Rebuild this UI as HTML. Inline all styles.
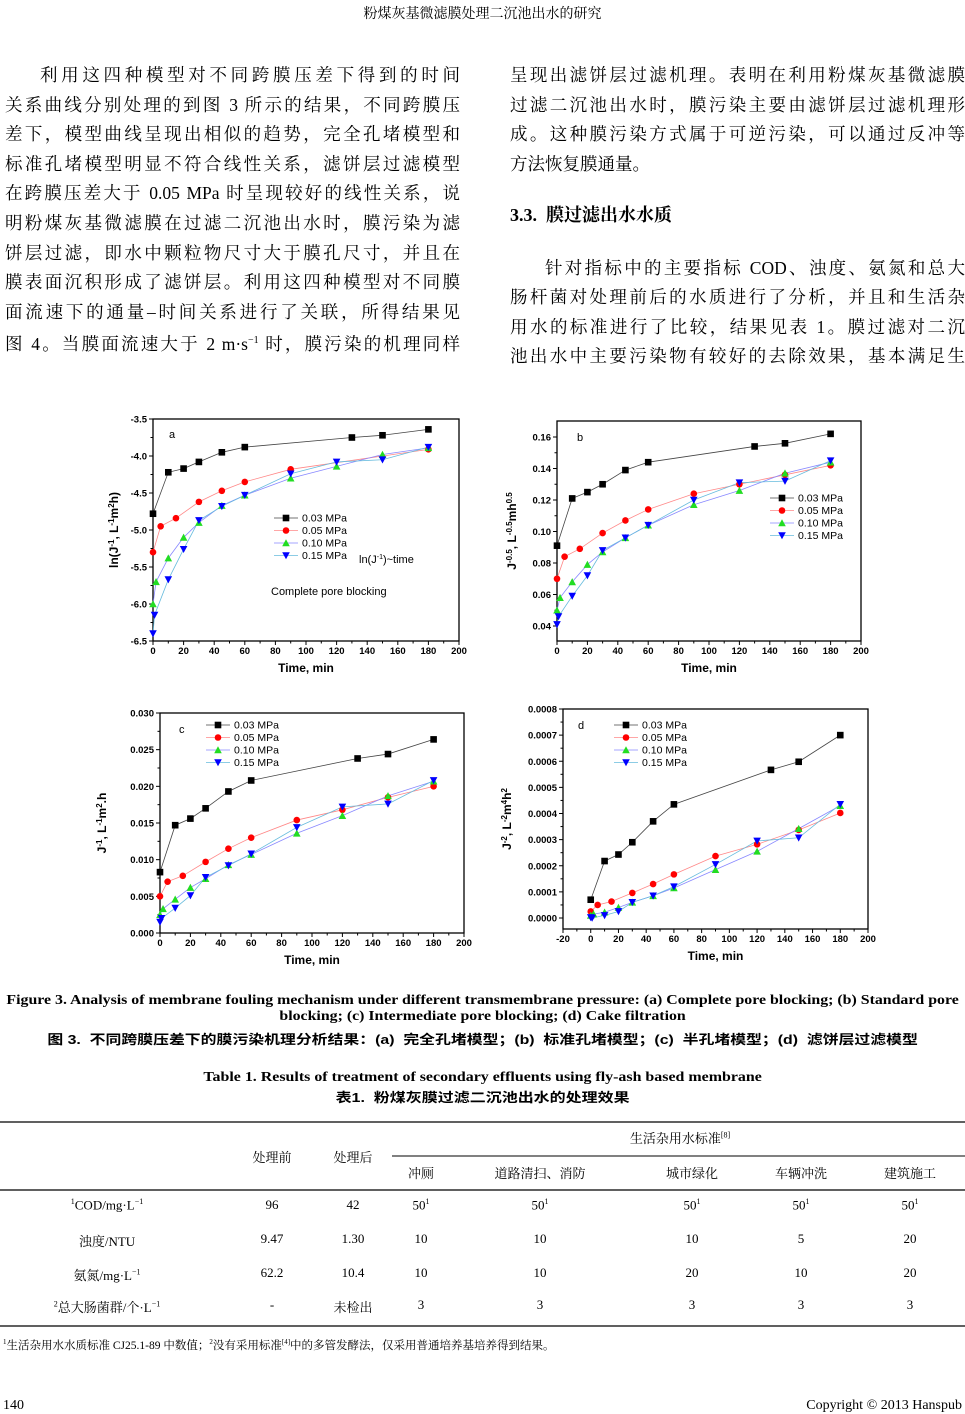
<!DOCTYPE html>
<html><head><meta charset="utf-8"><style>
body{margin:0;width:965px;height:1414px;background:#fff;position:relative;overflow:hidden;font-family:"Liberation Serif","Noto Serif CJK SC",serif;color:#000}
.a{position:absolute;white-space:nowrap}
.ln{position:absolute;font-size:17.5px;text-align:justify;text-align-last:justify;white-space:nowrap;height:22px;line-height:22px}
.c{position:absolute;left:0;width:965px;text-align:center;font-weight:bold;font-size:13.5px;white-space:nowrap;transform-origin:482px 0}
.t{position:absolute;font-size:13px;transform:translateX(-50%);white-space:nowrap}
svg{position:absolute;left:0;top:0}
</style></head><body>
<div class="c" style="top:3px;font-weight:normal;font-size:14px">粉煤灰基微滤膜处理二沉池出水的研究</div>

<div class="ln" style="left:40px;width:420px;top:64px">利用这四种模型对不同跨膜压差下得到的时间</div>
<div class="ln" style="left:5px;width:455px;top:94px">关系曲线分别处理的到图 3 所示的结果，不同跨膜压</div>
<div class="ln" style="left:5px;width:455px;top:123px">差下，模型曲线呈现出相似的趋势，完全孔堵模型和</div>
<div class="ln" style="left:5px;width:455px;top:153px">标准孔堵模型明显不符合线性关系，滤饼层过滤模型</div>
<div class="ln" style="left:5px;width:455px;top:182px">在跨膜压差大于 0.05 MPa 时呈现较好的线性关系，说</div>
<div class="ln" style="left:5px;width:455px;top:212px">明粉煤灰基微滤膜在过滤二沉池出水时，膜污染为滤</div>
<div class="ln" style="left:5px;width:455px;top:242px">饼层过滤，即水中颗粒物尺寸大于膜孔尺寸，并且在</div>
<div class="ln" style="left:5px;width:455px;top:271px">膜表面沉积形成了滤饼层。利用这四种模型对不同膜</div>
<div class="ln" style="left:5px;width:455px;top:301px">面流速下的通量–时间关系进行了关联，所得结果见</div>
<div class="ln" style="left:5px;width:455px;top:330px">图 4。当膜面流速大于 2 m·s<sup style="font-size:10px">−1</sup> 时，膜污染的机理同样</div>

<div class="ln" style="left:510px;width:455px;top:64px">呈现出滤饼层过滤机理。表明在利用粉煤灰基微滤膜</div>
<div class="ln" style="left:510px;width:455px;top:94px">过滤二沉池出水时，膜污染主要由滤饼层过滤机理形</div>
<div class="ln" style="left:510px;width:455px;top:123px">成。这种膜污染方式属于可逆污染，可以通过反冲等</div>
<div class="a" style="left:510px;top:153px;font-size:17.5px;line-height:22px">方法恢复膜通量。</div>
<div class="a" style="left:510px;top:204px;font-size:18px;font-weight:bold;line-height:22px">3.3.&nbsp;&nbsp;膜过滤出水水质</div>
<div class="ln" style="left:545px;width:420px;top:257px">针对指标中的主要指标 COD、浊度、氨氮和总大</div>
<div class="ln" style="left:510px;width:455px;top:286px">肠杆菌对处理前后的水质进行了分析，并且和生活杂</div>
<div class="ln" style="left:510px;width:455px;top:316px">用水的标准进行了比较，结果见表 1。膜过滤对二沉</div>
<div class="ln" style="left:510px;width:455px;top:345px">池出水中主要污染物有较好的去除效果，基本满足生</div>

<svg id="s" width="965" height="1414" font-family="Liberation Sans, sans-serif"></svg>

<div class="c" style="top:992px;transform:scaleX(1.175)">Figure 3. Analysis of membrane fouling mechanism under different transmembrane pressure: (a) Complete pore blocking; (b) Standard pore</div>
<div class="c" style="top:1008px;transform:scaleX(1.175)">blocking; (c) Intermediate pore blocking; (d) Cake filtration</div>
<div class="c" style="top:1029px;font-family:'Liberation Sans','Noto Sans CJK SC',sans-serif;font-size:13px;transform:scaleX(1.22)">图 3.&nbsp; 不同跨膜压差下的膜污染机理分析结果：(a)&nbsp; 完全孔堵模型；(b)&nbsp; 标准孔堵模型；(c)&nbsp; 半孔堵模型；(d)&nbsp; 滤饼层过滤模型</div>
<div class="c" style="top:1069px;transform:scaleX(1.18)">Table 1. Results of treatment of secondary effluents using fly-ash based membrane</div>
<div class="c" style="top:1087px;font-family:'Liberation Sans','Noto Sans CJK SC',sans-serif;font-size:13px;transform:scaleX(1.23)">表1.&nbsp; 粉煤灰膜过滤二沉池出水的处理效果</div>

<div class="t" style="left:680px;top:1128px">生活杂用水标准<sup style="font-size:8px">[8]</sup></div>
<div class="t" style="left:272px;top:1147px">处理前</div>
<div class="t" style="left:353px;top:1147px">处理后</div>
<div class="t" style="left:421px;top:1163px">冲厕</div>
<div class="t" style="left:540px;top:1163px">道路清扫、消防</div>
<div class="t" style="left:692px;top:1163px">城市绿化</div>
<div class="t" style="left:801px;top:1163px">车辆冲洗</div>
<div class="t" style="left:910px;top:1163px">建筑施工</div>
<div id="rows"></div>
<div class="a" style="left:3px;top:1337px;font-size:11.5px"><sup style="font-size:7px">1</sup>生活杂用水水质标准 CJ25.1-89 中数值；<sup style="font-size:7px">2</sup>没有采用标准<sup style="font-size:7px">[4]</sup>中的多管发酵法，仅采用普通培养基培养得到结果。</div>
<div class="a" style="left:3px;top:1398px;font-size:14px">140</div>
<div class="a" style="right:3px;top:1398px;font-size:14px">Copyright © 2013 Hanspub</div>

<script>
var R=[["<sup style='font-size:8px'>1</sup>COD/mg·L<sup style='font-size:8px'>−1</sup>","96","42","50<sup style='font-size:8px'>1</sup>","50<sup style='font-size:8px'>1</sup>","50<sup style='font-size:8px'>1</sup>","50<sup style='font-size:8px'>1</sup>","50<sup style='font-size:8px'>1</sup>"],
["浊度/NTU","9.47","1.30","10","10","10","5","20"],
["氨氮/mg·L<sup style='font-size:8px'>−1</sup>","62.2","10.4","10","10","20","10","20"],
["<sup style='font-size:8px'>2</sup>总大肠菌群/个·L<sup style='font-size:8px'>−1</sup>","-","未检出","3","3","3","3","3"]];
var cx=[107,272,353,421,540,692,801,910],ry=[1197,1231,1265,1297],h="";
R.forEach(function(r,i){r.forEach(function(v,j){h+='<div class="t" style="left:'+cx[j]+'px;top:'+ry[i]+'px">'+v+'</div>';});});
document.getElementById('rows').innerHTML=h;

var S=document.getElementById('s'),o="";
function L(x1,y1,x2,y2,c,w){o+='<line x1="'+x1+'" y1="'+y1+'" x2="'+x2+'" y2="'+y2+'" stroke="'+(c||'#000')+'" stroke-width="'+(w||1)+'"/>';}
function T(x,y,s,a,sz,b,extra){o+='<text x="'+x+'" y="'+y+'" text-anchor="'+(a||'middle')+'" font-size="'+(sz||9)+'"'+(b?' font-weight="bold"':'')+(extra||'')+'>'+s+'</text>';}
L(0,1122,965,1122,'#000',1.2);L(392,1156,965,1156,'#000',1);L(0,1190,965,1190,'#000',1.2);L(0,1326,965,1326,'#000',1.2);
var lc=['#444','#f88','#88f','#6bd'];
function mk(x,y,k){var s=3.3;
 if(k==0)o+='<rect x="'+(x-s)+'" y="'+(y-s)+'" width="'+2*s+'" height="'+2*s+'" fill="#000"/>';
 else if(k==1)o+='<circle cx="'+x+'" cy="'+y+'" r="'+s+'" fill="#f00"/>';
 else if(k==2)o+='<polygon points="'+x+','+(y-s-0.5)+' '+(x-s-0.5)+','+(y+s)+' '+(x+s+0.5)+','+(y+s)+'" fill="#2d2"/>';
 else o+='<polygon points="'+x+','+(y+s+0.5)+' '+(x-s-0.5)+','+(y-s)+' '+(x+s+0.5)+','+(y-s)+'" fill="#00f"/>';}
function chart(p){
 var X=function(t){return p.x0+(t-p.t0)/(p.t1-p.t0)*(p.x1-p.x0)},Y=function(v){return p.ya+(v-p.va)/(p.vb-p.va)*(p.yb-p.ya)};
 o+='<rect x="'+p.x0+'" y="'+p.top+'" width="'+(p.x1-p.x0)+'" height="'+(p.bot-p.top)+'" fill="none" stroke="#000" stroke-width="1.3"/>';
 for(var t=p.t0;t<=p.t1;t+=20){var x=X(t);L(x,p.bot,x,p.bot+4);T(x,p.bot+13,t,'middle',9.5,1);if(t<p.t1){L(X(t+10),p.bot,X(t+10),p.bot+2.5);}}
 p.yt.forEach(function(v){var y=Y(v[0]);L(p.x0-4,y,p.x0,y);T(p.x0-6,y+3.5,v[1],'end',9.5,1);});
 p.ym.forEach(function(v){var y=Y(v);L(p.x0-2.5,y,p.x0,y);});
 T((p.x0+p.x1)/2,p.bot+31,'Time, min','middle',12,1);
 o+='<text transform="translate('+p.ylx+','+((p.top+p.bot)/2)+') rotate(-90)" text-anchor="middle" font-size="12" font-weight="bold">'+p.yl+'</text>';
 p.d.forEach(function(s,k){var pts=s.map(function(q){return X(q[0])+','+Y(q[1])}).join(' ');o+='<polyline points="'+pts+'" fill="none" stroke="'+lc[k]+'" stroke-width="0.8"/>';});
 p.d.forEach(function(s,k){s.forEach(function(q){mk(X(q[0]),Y(q[1]),k)});});
 T(p.lab[0],p.lab[1],p.lab[2],'start',11,0);
 var names=['0.03 MPa','0.05 MPa','0.10 MPa','0.15 MPa'];
 names.forEach(function(n,k){var y=p.lg[1]+k*12.5;L(p.lg[0],y,p.lg[0]+24,y,lc[k],0.8);mk(p.lg[0]+12,y,k);T(p.lg[0]+28,y+3.5,n,'start',10.5,0);});
}
function P(a){return a.map(function(s){return s.split(';').map(function(q){return q.split(',').map(Number)})})}
chart({x0:153,x1:459,t0:0,t1:200,top:419,bot:641,va:-3.5,vb:-6.5,ya:419,yb:641,
 yt:[[-3.5,'-3.5'],[-4,'-4.0'],[-4.5,'-4.5'],[-5,'-5.0'],[-5.5,'-5.5'],[-6,'-6.0'],[-6.5,'-6.5']],ym:[-3.75,-4.25,-4.75,-5.25,-5.75,-6.25],
 yl:'ln(J<tspan dy="-4" font-size="8">-1</tspan><tspan dy="4">, L</tspan><tspan dy="-4" font-size="8">-1</tspan><tspan dy="4">m</tspan><tspan dy="-4" font-size="8">2</tspan><tspan dy="4">h)</tspan>',ylx:118,
 lab:[169,438,'a'],lg:[274,518],
 d:P(["0,-4.78;10,-4.22;20,-4.17;30,-4.08;45,-3.95;60,-3.88;130,-3.75;150,-3.72;180,-3.64",
 "0,-5.3;5,-4.95;15,-4.84;30,-4.62;45,-4.47;60,-4.35;90,-4.18;180,-3.91",
 "0,-6.0;2,-5.7;10,-5.38;20,-5.1;30,-4.9;45,-4.67;60,-4.53;90,-4.3;120,-4.14;150,-3.98;180,-3.89",
 "0,-6.4;1,-6.15;10,-5.67;20,-5.26;30,-4.87;45,-4.68;60,-4.53;90,-4.24;120,-4.08;150,-4.05;180,-3.88"])});
T(359,563,'ln(J<tspan dy="-4" font-size="7">-1</tspan><tspan dy="4">)~time</tspan>','start',11,0);
T(271,595,'Complete pore blocking','start',11,0);
chart({x0:557,x1:861,t0:0,t1:200,top:421,bot:641,va:0.16,vb:0.04,ya:437,yb:626,
 yt:[[0.04,'0.04'],[0.06,'0.06'],[0.08,'0.08'],[0.1,'0.10'],[0.12,'0.12'],[0.14,'0.14'],[0.16,'0.16']],ym:[0.05,0.07,0.09,0.11,0.13,0.15],
 yl:'J<tspan dy="-4" font-size="8">-0.5</tspan><tspan dy="4">, L</tspan><tspan dy="-4" font-size="8">-0.5</tspan><tspan dy="4">mh</tspan><tspan dy="-4" font-size="8">0.5</tspan>',ylx:516,
 lab:[577,441,'b'],lg:[770,498],
 d:P(["0,.091;10,.121;20,.125;30,.130;45,.139;60,.144;130,.154;150,.156;180,.162",
 "0,.070;5,.084;15,.089;30,.099;45,.107;60,.114;90,.124;120,.130;150,.136;180,.142",
 "0,.050;2,.058;10,.068;20,.079;30,.087;45,.096;60,.104;90,.117;120,.126;150,.137;180,.144",
 "0,.041;1,.046;10,.059;20,.072;30,.088;45,.096;60,.104;90,.120;120,.131;150,.132;180,.145"])});
chart({x0:160,x1:464,t0:0,t1:200,top:713,bot:933,va:0.03,vb:0,ya:713,yb:933,
 yt:[[0,'0.000'],[0.005,'0.005'],[0.01,'0.010'],[0.015,'0.015'],[0.02,'0.020'],[0.025,'0.025'],[0.03,'0.030']],ym:[0.0025,0.0075,0.0125,0.0175,0.0225,0.0275],
 yl:'J<tspan dy="-4" font-size="8">-1</tspan><tspan dy="4">, L</tspan><tspan dy="-4" font-size="8">-1</tspan><tspan dy="4">m</tspan><tspan dy="-4" font-size="8">2</tspan><tspan dy="4">.h</tspan>',ylx:106,
 lab:[179,733,'c'],lg:[206,725],
 d:P(["0,.0083;10,.0147;20,.0156;30,.017;45,.0193;60,.0208;130,.0238;150,.0244;180,.0264",
 "0,.005;5,.007;15,.0078;30,.0097;45,.0115;60,.013;90,.0154;120,.0168;150,.0185;180,.020",
 "0,.0025;2,.0033;10,.0046;20,.0062;30,.0074;45,.0093;60,.0107;90,.0136;120,.016;150,.0187;180,.0207",
 "0,.0015;1,.002;10,.0034;20,.0051;30,.0076;45,.0092;60,.0108;90,.0144;120,.0172;150,.0176;180,.0208"])});
chart({x0:563,x1:868,t0:-20,t1:200,top:709,bot:929,va:0.0008,vb:0,ya:709,yb:918,
 yt:[[0,'0.0000'],[0.0001,'0.0001'],[0.0002,'0.0002'],[0.0003,'0.0003'],[0.0004,'0.0004'],[0.0005,'0.0005'],[0.0006,'0.0006'],[0.0007,'0.0007'],[0.0008,'0.0008']],ym:[0.00005,0.00015,0.00025,0.00035,0.00045,0.00055,0.00065,0.00075],
 yl:'J<tspan dy="-4" font-size="8">-2</tspan><tspan dy="4">, L</tspan><tspan dy="-4" font-size="8">-2</tspan><tspan dy="4">m</tspan><tspan dy="-4" font-size="8">4</tspan><tspan dy="4">h</tspan><tspan dy="-4" font-size="8">2</tspan>',ylx:511,
 lab:[578,729,'d'],lg:[614,725],
 d:P(["0,.00007;10,.000218;20,.000243;30,.00029;45,.00037;60,.000435;130,.000567;150,.000598;180,.0007",
 "0,.000025;5,.00005;15,.000063;30,.000096;45,.00013;60,.000167;90,.000237;120,.000282;150,.000337;180,.000402",
 "0,.00001;2,.000015;10,.000022;20,.00004;30,.00006;45,.000085;60,.000115;90,.000185;120,.000255;150,.000342;180,.00043",
 "0,.000002;1,0;10,.00001;20,.000025;30,.00006;45,.000085;60,.00012;90,.000205;120,.000295;150,.000307;180,.000435"])});
S.innerHTML=o;
</script>
</body></html>
